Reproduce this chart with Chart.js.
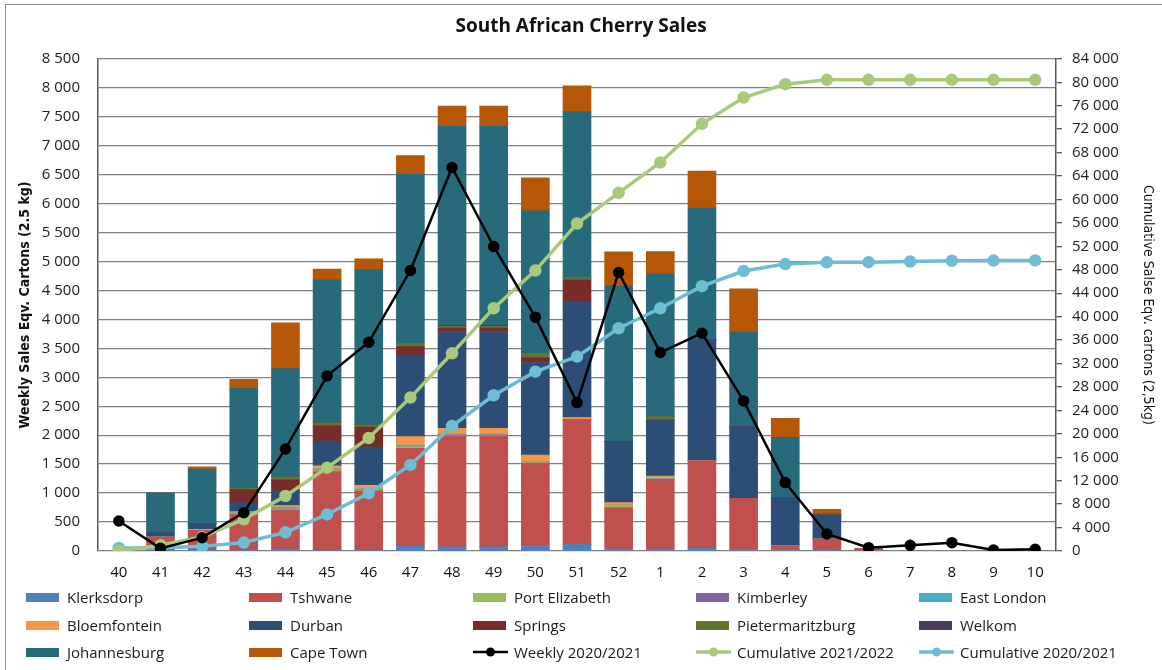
<!DOCTYPE html>
<html lang="en">
<head>
<meta charset="UTF-8">
<script src="https://cdn.jsdelivr.net/npm/chart.js@4.4.1/dist/chart.umd.min.js"></script>
<style>
  body { margin: 0; background: #fff; }
  #wrap { position: relative; width: 1162px; height: 670px; font-family: 'Open Sans', sans-serif; }
  #frame { position: absolute; left: 5px; top: 4px; right: 0; bottom: 0; border-left: 1.5px solid #8c8c8c; border-top: 1.5px solid #8c8c8c; pointer-events: none; }
  .lg { position: absolute; display: flex; align-items: center; height: 20px; font-size: 15px; color: #1a1a1a; white-space: nowrap; }
  .lg .sw { width: 33px; height: 9px; margin-right: 8px; }
  .lg svg { margin-right: 6px; }
</style>
</head>
<body>
<div id="wrap">
  <canvas id="chart" width="1162" height="670"></canvas>
  <div id="legend"></div>
  <div id="frame"></div>
</div>
<script>
// week numbers (season 2021/2022)
var weeks = ['40','41','42','43','44','45','46','47','48','49','50','51','52','1','2','3','4','5','6','7','8','9','10'];

// weekly sales per market, cartons
var klerksdorp      = [0, 10, 5, 10, 35, 10, 10, 85, 70, 70, 90, 115, 35, 35, 45, 30, 25, 5, 0, 0, 0, 0, 0];
var tshwane         = [0, 230, 350, 620, 670, 1360, 1030, 1690, 1920, 1920, 1425, 2160, 714, 1204, 1516, 880, 65, 200, 40, 0, 0, 0, 0];
var portElizabeth   = [0, 0, 0, 10, 20, 20, 15, 25, 10, 10, 10, 0, 46, 0, 0, 0, 0, 0, 0, 0, 0, 0, 0];
var kimberley       = [0, 0, 0, 0, 0, 0, 0, 0, 10, 10, 0, 0, 0, 0, 0, 0, 0, 0, 0, 0, 0, 0, 0];
var eastLondon      = [0, 0, 0, 20, 30, 30, 20, 30, 10, 10, 15, 0, 0, 10, 0, 0, 0, 0, 0, 0, 0, 0, 0];
var bloemfontein    = [0, 0, 20, 20, 30, 50, 60, 145, 100, 100, 115, 30, 40, 46, 0, 0, 0, 0, 0, 0, 0, 0, 0];
var durban          = [0, 80, 100, 150, 250, 430, 660, 1410, 1670, 1670, 1600, 2000, 1054, 967, 2085, 1238, 829, 415, 0, 0, 0, 0, 0];
var springs         = [0, 0, 0, 230, 200, 260, 345, 145, 58, 58, 80, 375, 0, 0, 0, 0, 0, 0, 0, 0, 0, 0, 0];
var pietermaritzburg = [0, 0, 0, 30, 45, 55, 40, 58, 30, 30, 75, 46, 0, 58, 0, 0, 0, 0, 0, 0, 0, 0, 0];
var welkom          = [0, 0, 0, 0, 0, 0, 0, 0, 20, 20, 0, 0, 0, 0, 0, 0, 0, 0, 0, 0, 0, 0, 0];
var johannesburg    = [0, 686, 940, 1720, 1870, 2470, 2680, 2920, 3440, 3440, 2465, 2862, 2696, 2465, 2275, 1631, 1043, 20, 0, 0, 0, 0, 0];
var capeTown        = [0, 0, 40, 155, 790, 185, 185, 320, 345, 345, 570, 444, 582, 386, 640, 748, 329, 80, 0, 0, 0, 0, 0];

// lines
var weekly2021 = [518, 46, 230, 662, 1762, 3024, 3606, 4844, 6623, 5259, 4038, 2563, 4810, 3427, 3761, 2592, 1181, 294, 58, 98, 144, 17, 29];
var cum2122    = [0, 1000, 2400, 5406, 9390, 14225, 19292, 26176, 33750, 41433, 47861, 55885, 61121, 66300, 72902, 77395, 79670, 80414, 80414, 80414, 80414, 80414, 80414];
var cum2021    = [518, 560, 790, 1440, 3180, 6250, 9845, 14690, 21330, 26580, 30610, 33175, 38020, 41420, 45200, 47780, 48970, 49260, 49300, 49400, 49540, 49560, 49590];

var FONT = "'Open Sans', sans-serif";
var NARROW = "'Liberation Sans Narrow', 'DejaVu Sans Condensed', 'Roboto Condensed', 'Open Sans', sans-serif";

function fmt(v) {
  return String(v).replace(/\B(?=(\d{3})+(?!\d))/g, ' ');
}

function bar(label, data, color) {
  return { type: 'bar', label: label, data: data, backgroundColor: color, yAxisID: 'y', order: 2, barThickness: 28 };
}

var datasets = [
  bar('Klerksdorp', klerksdorp, '#4F81BD'),
  bar('Tshwane', tshwane, '#C0504D'),
  bar('Port Elizabeth', portElizabeth, '#9BBB59'),
  bar('Kimberley', kimberley, '#8064A2'),
  bar('East London', eastLondon, '#4BACC6'),
  bar('Bloemfontein', bloemfontein, '#F79646'),
  bar('Durban', durban, '#2C4D75'),
  bar('Springs', springs, '#772C2A'),
  bar('Pietermaritzburg', pietermaritzburg, '#5F7530'),
  bar('Welkom', welkom, '#4D3B62'),
  bar('Johannesburg', johannesburg, '#276A7C'),
  bar('Cape Town', capeTown, '#B65708'),
  { type: 'line', label: 'Weekly 2020/2021', data: weekly2021, yAxisID: 'y', stack: 'weekly', order: 0,
    borderColor: '#000', backgroundColor: '#000', borderWidth: 2.5, pointRadius: 4.5, tension: 0 },
  { type: 'line', label: 'Cumulative 2021/2022', data: cum2122, yAxisID: 'y2', order: 1,
    borderColor: '#A9C97B', backgroundColor: '#A9C97B', borderWidth: 3.5, pointRadius: 4.5, tension: 0 },
  { type: 'line', label: 'Cumulative 2020/2021', data: cum2021, yAxisID: 'y2', order: 1,
    borderColor: '#6DBDD3', backgroundColor: '#6DBDD3', borderWidth: 3.5, pointRadius: 4.5, tension: 0 }
];

var ctx = document.getElementById('chart').getContext('2d');
var chart = new Chart(ctx, {
  type: 'bar',
  data: { labels: weeks, datasets: datasets },
  options: {
    responsive: false,
    animation: false,
    layout: { padding: { top: 0, left: 0, right: 0, bottom: 85 } },
    plugins: {
      legend: { display: false },
      tooltip: { enabled: false },
      title: {
        display: true,
        text: 'South African Cherry Sales',
        color: '#111',
        font: { family: FONT, size: 19, weight: 'bold' },
        padding: { top: 15, bottom: 21 }
      }
    },
    scales: {
      x: {
        stacked: true,
        grid: { display: false },
        border: { display: false },
        ticks: { color: '#111', font: { family: FONT, size: 15 }, padding: 5, maxRotation: 0, autoSkip: false },
        afterFit: function(s) { s.height = 34; }
      },
      y: {
        stacked: true,
        min: 0, max: 8500,
        ticks: { stepSize: 500, padding: 18, color: '#222', font: { family: FONT, size: 15 }, callback: fmt },
        grid: { color: '#808080', lineWidth: 1.3, drawTicks: false },
        border: { color: '#595959', width: 1.5 },
        title: {
          display: true,
          text: 'Weekly Sales Eqv. Cartons (2.5 kg)',
          color: '#111',
          font: { family: NARROW, size: 14, weight: 'bold' },
          padding: { top: 17, bottom: 0 }
        },
        afterFit: function(s) { s.width = 98; }
      },
      y2: {
        position: 'right',
        min: 0, max: 84000,
        ticks: { stepSize: 4000, padding: 10, color: '#222', font: { family: FONT, size: 15 }, callback: fmt },
        grid: { drawOnChartArea: false, drawTicks: true, tickLength: 6, color: '#595959', lineWidth: 1.3 },
        border: { color: '#595959', width: 1.5 },
        title: {
          display: true,
          text: 'Cumulative Salse Eqv. cartons (2,5kg)',
          color: '#111',
          font: { family: NARROW, size: 14 },
          padding: { top: 6, bottom: 0 }
        },
        afterFit: function(s) { s.width = 106; }
      }
    }
  }
});

// legend grid, 5 columns x 3 rows, built from the chart's datasets
var legend = document.getElementById('legend');
var colX = [26, 249, 473, 696, 919];
var rowY = [597, 625, 652];
chart.data.datasets.forEach(function(ds, i) {
  var item = document.createElement('div');
  item.className = 'lg';
  item.style.left = colX[i % 5] + 'px';
  item.style.top = (rowY[Math.floor(i / 5)] - 10) + 'px';
  if (ds.type === 'line') {
    var c = ds.borderColor;
    item.innerHTML = '<svg width="35" height="12"><line x1="0" y1="6" x2="35" y2="6" stroke="' + c +
      '" stroke-width="' + ds.borderWidth + '"/><circle cx="17.5" cy="6" r="4.5" fill="' + c + '"/></svg>';
  } else {
    item.innerHTML = '<div class="sw" style="background:' + ds.backgroundColor + '"></div>';
  }
  var t = document.createElement('span');
  t.textContent = ds.label;
  item.appendChild(t);
  legend.appendChild(item);
});
</script>
</body>
</html>
